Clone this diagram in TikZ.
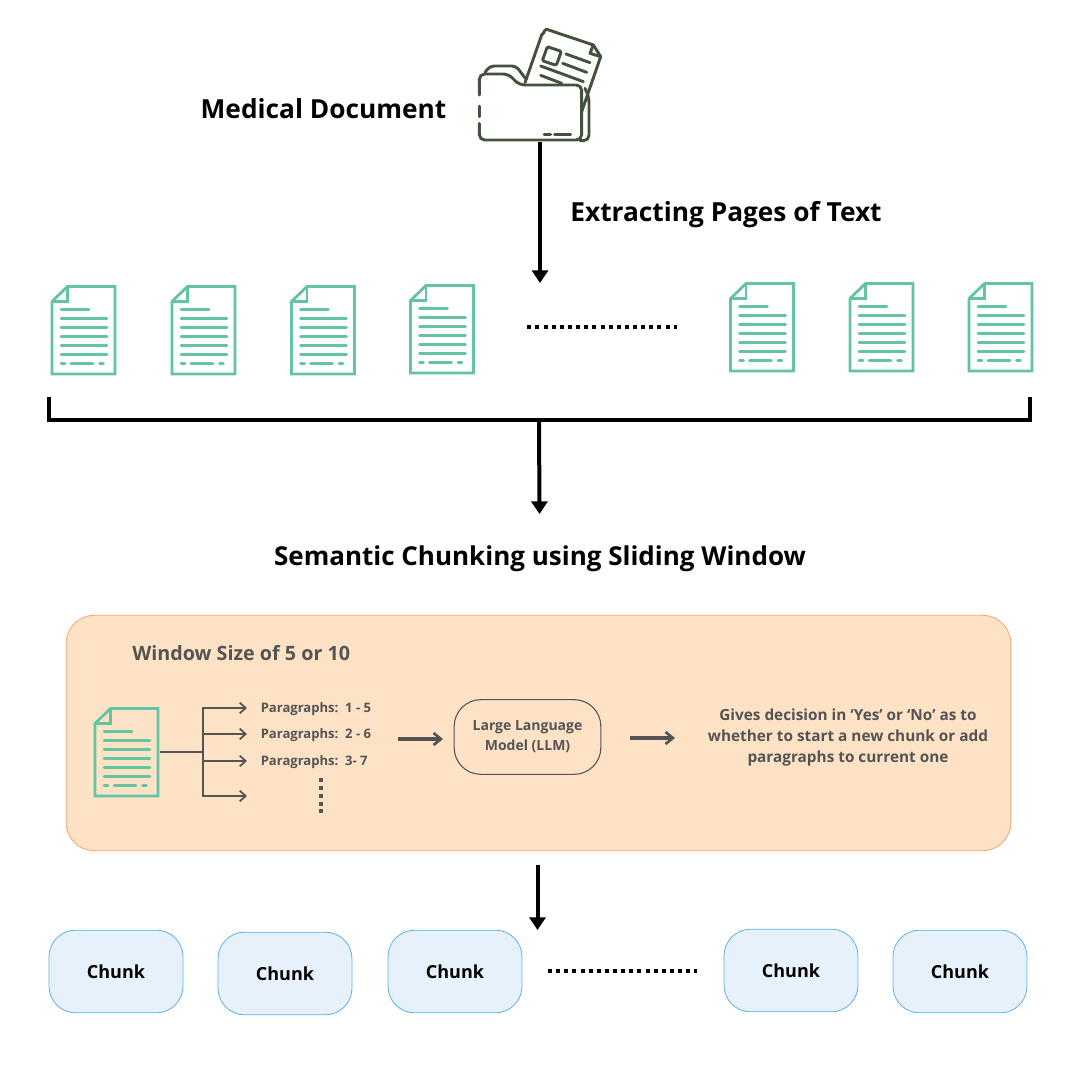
\documentclass[tikz,border=0pt]{standalone}
\usepackage{fontspec}
\setmainfont{Open Sans}
\usetikzlibrary{arrows.meta}
\definecolor{docgreen}{HTML}{62C4A2}
\definecolor{foldergreen}{HTML}{45513F}
\definecolor{graytxt}{HTML}{545454}
\definecolor{boxfill}{HTML}{FDE2C6}
\definecolor{boxline}{HTML}{F5A66E}
\definecolor{chunkfill}{HTML}{E6F1FB}
\definecolor{chunkline}{HTML}{5EB0F0}
\newcommand{\fs}[2]{\fontsize{#1}{#2}\selectfont}
\tikzset{
  x=0.75pt,y=-0.75pt,
  bigarrow/.style={line width=3pt,-{Triangle[length=9.5pt,width=12pt]}},
  bracketline/.style={line width=3pt},
  dotline/.style={line width=3pt,dash pattern=on 3pt off 3.1pt},
  title/.style={font=\bfseries\fs{19.7}{24},black,inner sep=0pt},
  chunkbox/.style={draw=chunkline,fill=chunkfill,line width=0.6pt,rounded corners=20pt,minimum width=100.5pt,minimum height=62pt,inner sep=0pt,font=\bfseries\fs{13.5}{16},text=black},
  graylbl/.style={font=\bfseries\fs{9.8}{12},text=graytxt,inner sep=0pt,anchor=west},
  grayarrow/.style={draw=graytxt,line width=1.5pt,-{Straight Barb[length=4.5pt,width=8pt,line width=1.3pt]}},
  midarrow/.style={draw=graytxt,line width=2.4pt,-{Straight Barb[length=5.5pt,width=9pt,line width=2pt]}},
  docline/.style={docgreen,line width=2pt,line cap=round},
  pics/docicon/.style={code={
    \draw[docgreen,line width=2.1pt,line join=miter] (0,15) -- (15.5,0) -- (63,0) -- (63,87.5) -- (0,87.5) -- cycle;
    \draw[docgreen,line width=2.1pt] (0,15) -- (15.5,15) -- (15.5,0);
    \foreach \yy in {32,41,50,59,68}{\draw[docline] (9,\yy) -- (55,\yy);}
    \draw[docline] (9,23) -- (37,23);
    \draw[docline] (9,77) -- (13,77);
    \draw[docline] (19,77) -- (41,77);
    \draw[docline] (47.5,77) -- (51.5,77);
  }},
}
\begin{document}
\begin{tikzpicture}
\useasboundingbox (0,0) rectangle (1080,1080);
\fill[white] (0,0) rectangle (1080,1080);

% folder icon
\begin{scope}[shift={(440,10)},x=0.25pt,y=-0.25pt,draw=foldergreen,line width=2.2pt,line join=round,line cap=round]
  \draw (255,218) -- (306,72) to[out=-65,in=170] (320,58) -- (460,105) -- (482,140) -- (425,305);
  \draw (460,105) -- (450,130) -- (482,140);
  \draw[rounded corners=1pt] (322,110) -- (364,124) -- (349,166) -- (307,152) -- cycle;
  \draw (378,132) -- (450,158);
  \draw (368,160) -- (440,187);
  \draw (302,168) -- (430,215);
  \draw (302,196) -- (365,220);
  \draw[rounded corners=3pt] (135,187) -- (150,168) -- (228,168) -- (256,205);
  \draw[rounded corners=4pt] (118,255) -- (118,192) -- (205,192) -- (238,225) -- (425,225) -- (425,390) -- (118,390) -- (118,340);
  \draw (118,288) -- (118,320);
  \draw[rounded corners=4pt] (435,235) -- (447,262) -- (447,392) -- (420,392);
  \draw (312,374) -- (332,374);
  \draw (344,374) -- (392,374);
\end{scope}
\coordinate (folderbottom) at (540,142);
\coordinate (pagestop) at (540,283);

\node[title,anchor=center] (meddoc) at (323.5,109) {Medical Document};
\node[title,anchor=center] (extract) at (726,215) {Extracting Pages of Text};
\draw[bigarrow] (folderbottom) -- (pagestop);

% pages
\pic at (52,286.5) {docicon};
\pic at (172,286.5) {docicon};
\pic at (291.5,286.5) {docicon};
\pic at (410.5,285.5) {docicon};
\pic at (730.5,283.5) {docicon};
\pic at (850,283.5) {docicon};
\pic at (969,283.5) {docicon};
\coordinate (dotsA) at (527.3,327);
\coordinate (dotsB) at (677,327);
\draw[dotline,black] (dotsA) -- (dotsB);

% bracket
\coordinate (brL) at (48.5,397);
\coordinate (brLc) at (48.5,419.5);
\coordinate (brR) at (1030,397);
\coordinate (brRc) at (1030,419.5);
\coordinate (brM) at (539,419.5);
\coordinate (brEnd) at (539.5,514);
\draw[bracketline] (brL) -- (brLc) -- (brRc) -- (brR);
\draw[bigarrow] (brM) -- (brEnd);

\node[title,anchor=center,font=\bfseries\fs{19.5}{24}] (semantic) at (540,559) {Semantic Chunking using Sliding Window};

% orange box
\node[draw=boxline,fill=boxfill,line width=0.6pt,rounded corners=21pt,minimum width=708.5pt,minimum height=176.5pt,inner sep=0pt] (panel) at (538.5,733) {};
\node[font=\bfseries\fs{14.8}{18},text=graytxt,inner sep=0pt,anchor=west] (wsize) at (132,653) {Window Size of 5 or 10};

\pic at (95,708.5) {docicon};
\coordinate (docR) at (160,752);
\coordinate (trunk) at (203,752);
\coordinate (tTop) at (203,708);
\coordinate (tB) at (203,734);
\coordinate (tC) at (203,761);
\coordinate (tBot) at (203,796);
\coordinate (aA) at (247,708);
\coordinate (aB) at (247,734);
\coordinate (aC) at (247,761);
\coordinate (aD) at (247,796);
\draw[draw=graytxt,line width=1.5pt] (docR) -- (trunk);
\draw[draw=graytxt,line width=1.5pt,line cap=rect] (tTop) -- (tBot);
\draw[grayarrow] (tTop) -- (aA);
\draw[grayarrow] (tB) -- (aB);
\draw[grayarrow] (tC) -- (aC);
\draw[grayarrow] (tBot) -- (aD);
\node[graylbl] (p1) at (260.5,709) {Paragraphs:\, 1 - 5};
\node[graylbl] (p2) at (260.5,735) {Paragraphs:\, 2 - 6};
\node[graylbl] (p3) at (260.5,762) {Paragraphs:\, 3- 7};
\coordinate (vA) at (320.5,778);
\coordinate (vB) at (320.5,815);
\draw[graytxt,line width=3pt,dash pattern=on 3pt off 2.9pt] (vA) -- (vB);

\coordinate (inL) at (398,739);
\node[draw=graytxt,line width=0.8pt,rounded corners=20pt,minimum width=110pt,minimum height=56pt,inner sep=0pt,align=center,font=\bfseries\fs{10.5}{15},text=graytxt] (llm) at (527.5,737) {Large Language\\Model (LLM)};
\coordinate (inR) at (443,739);
\coordinate (outL) at (630,738);
\coordinate (outR) at (675,738);
\draw[midarrow] (inL) -- (inR);
\draw[midarrow] (outL) -- (outR);
\node[inner sep=0pt,align=center,font=\bfseries\fs{11.5}{16},text=graytxt] (decision) at (848,737.5) {Gives decision in ‘Yes’ or ‘No’ as to\\whether to start a new chunk or add\\paragraphs to current one};

% chunks
\coordinate (panelOut) at (537.5,865);
\coordinate (chunkIn) at (537.5,930);
\draw[bigarrow] (panelOut) -- (chunkIn);
\node[chunkbox] (c1) at (116,971.5) {Chunk};
\node[chunkbox] (c2) at (285,973.5) {Chunk};
\node[chunkbox] (c3) at (455,971.5) {Chunk};
\node[chunkbox] (c4) at (791,970.5) {Chunk};
\node[chunkbox] (c5) at (960,971.5) {Chunk};
\coordinate (dotsC) at (548,971);
\coordinate (dotsD) at (697,971);
\draw[dotline,black] (dotsC) -- (dotsD);
\end{tikzpicture}
\end{document}
